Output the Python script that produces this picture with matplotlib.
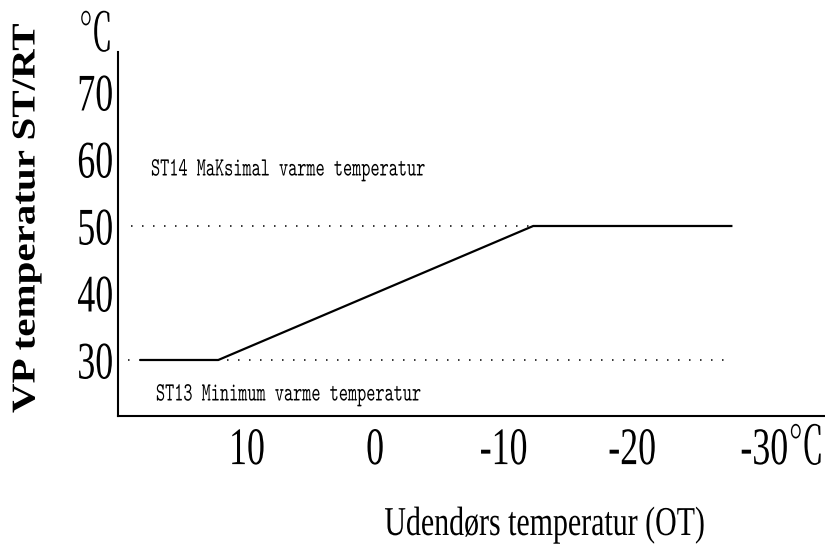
import matplotlib
matplotlib.use("Agg")
import matplotlib.pyplot as plt
import matplotlib.patheffects as pe
import matplotlib.transforms as mtransforms

# outdoor temperature (OT) vs heat pump supply temperature (ST/RT)
ot_points = [18.3, 12.2, -12.3, -27.8]
st_points = [30, 30, 50, 50]

# ST14 / ST13 limits, drawn as dotted guides
st_max = 50
st_max_ot = [19.0, -12.3]
st_min = 30
st_min_ot = [19.2, -27.4]

x_ticks = [10, 0, -10, -20, -30]
x_tick_labels = ["10", "0", "-10", "-20", "-30℃"]
y_ticks = [30, 40, 50, 60, 70]
y_tick_labels = ["30", "40", "50", "60", "70"]

SERIF = ["Liberation Serif", "Noto Serif CJK JP", "Noto Sans CJK JP", "DejaVu Sans"]
MONO = ["Latin Modern Mono", "Liberation Mono"]


class Squeeze(pe.AbstractPathEffect):
    """narrow the glyphs along the text direction (the reference uses a condensed face)"""

    def __init__(self, sx, anchor=0.5):
        super().__init__()
        self.sx = sx
        self.anchor = anchor

    def draw_path(self, renderer, gc, tpath, affine, rgbFace=None):
        ext = tpath.get_extents()
        cx = ext.x0 + self.anchor * (ext.x1 - ext.x0)
        squeeze = mtransforms.Affine2D().translate(-cx, 0).scale(self.sx, 1).translate(cx, 0)
        renderer.draw_path(gc, tpath, squeeze + affine, rgbFace)


fig = plt.figure(figsize=(8.25, 5.45), dpi=100)
ax = fig.add_axes([118 / 825, 1 - 416 / 545, 707 / 825, 364 / 545])

ax.plot(ot_points, st_points, color="black", lw=1.6, solid_capstyle="butt")
ax.plot(st_max_ot, [st_max, st_max], color="black", lw=1.1, ls=(0, (1, 6.2)))
ax.plot(st_min_ot, [st_min, st_min], color="black", lw=1.1, ls=(0, (1, 6.2)))

ax.set_xlim(20, -35)
ax.set_ylim(21.64, 75.97)

ax.spines["top"].set_visible(False)
ax.spines["right"].set_visible(False)
ax.spines["left"].set_linewidth(1.5)
ax.spines["bottom"].set_linewidth(1.5)

ax.set_xticks(x_ticks)
ax.set_xticklabels(x_tick_labels, family=SERIF, fontsize=38,
                   path_effects=[Squeeze(0.68)])
ax.set_yticks(y_ticks)
ax.set_yticklabels(y_tick_labels, family=SERIF, fontsize=38,
                   path_effects=[Squeeze(0.68, anchor=1.0)])
ax.tick_params(axis="x", length=0, pad=8)
ax.tick_params(axis="y", length=0, pad=3)

# the "-30" part sits on the tick, the unit hangs to the right
last = ax.get_xticklabels()[-1]
last.set_transform(mtransforms.offset_copy(last.get_transform(), fig=fig, x=22, units="dots"))

# notes, positioned in axes x / figure y
note_tr = mtransforms.blended_transform_factory(ax.transAxes, fig.transFigure)
ax.text(0.046, 1 - 170 / 545, "ST14 MaKsimal varme temperatur", transform=note_tr,
        family=MONO, fontsize=19, ha="left", va="center", color="black",
        path_effects=[Squeeze(0.66, anchor=0.0)])
ax.text(0.053, 1 - 395 / 545, "ST13 Minimum varme temperatur", transform=note_tr,
        family=MONO, fontsize=19, ha="left", va="center", color="black",
        path_effects=[Squeeze(0.66, anchor=0.0)])

fig.text(96 / 825, 1 - 38 / 545, "℃", family=SERIF, fontsize=38, ha="center", va="center",
         path_effects=[Squeeze(0.65)])
fig.text(26 / 825, 1 - 218 / 545, "VP temperatur ST/RT", family=SERIF, fontsize=24,
         fontweight="bold", rotation=90, ha="center", va="center",
         path_effects=[Squeeze(1.23)])
fig.text(545 / 825, 1 - 535 / 545, "Udendørs temperatur (OT)", family=SERIF, fontsize=29.5,
         ha="center", va="baseline", path_effects=[Squeeze(0.73)])

plt.savefig("out.png", dpi=100)
